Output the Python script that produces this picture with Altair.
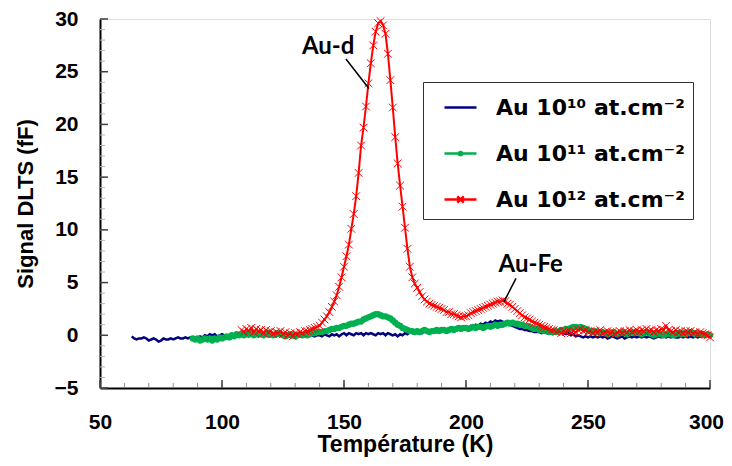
import altair as alt
import pandas as pd

# ---------------- data ----------------
names = ["Au 10¹⁰ at.cm⁻²", "Au 10¹¹ at.cm⁻²", "Au 10¹² at.cm⁻²"]
colors = ["#000080", "#00B050", "#FF0000"]

blue_T = list(range(63, 298))
blue_S = [
    -0.1, -0.3, -0.4, -0.3, -0.3, -0.2, -0.3, -0.5, -0.4, -0.3,
    -0.4, -0.6, -0.5, -0.3, -0.4, -0.4, -0.3, -0.4, -0.3, -0.2,
    -0.3, -0.3, -0.2, -0.3, -0.2, -0.3, -0.2, -0.3, -0.1, -0.2,
    0.0, -0.1, 0.1, 0.0, 0.1, -0.1, 0.0, 0.1, 0.0, -0.1,
    0.0, 0.1, 0.0, 0.1, -0.1, 0.0, 0.1, 0.0, -0.1, 0.0,
    0.1, 0.0, -0.1, 0.0, 0.1, 0.0, -0.1, 0.0, 0.1, -0.1,
    0.0, 0.1, 0.0, -0.1, 0.0, 0.1, 0.0, -0.1, 0.0, 0.1,
    0.0, -0.1, 0.0, 0.1, 0.0, -0.1, 0.0, 0.0, -0.1, 0.1,
    0.0, -0.1, 0.1, 0.0, 0.1, -0.1, 0.1, 0.2, 0.0, 0.2,
    0.1, 0.0, 0.2, 0.1, 0.2, 0.0, 0.2, 0.1, 0.2, 0.1,
    0.0, 0.2, 0.1, 0.2, 0.0, 0.2, 0.1, 0.0, 0.1, -0.1,
    0.1, 0.0, 0.2, 0.1, 0.3, 0.2, 0.3, 0.2, 0.3, 0.2,
    0.4, 0.3, 0.4, 0.3, 0.4, 0.3, 0.5, 0.4, 0.5, 0.4,
    0.6, 0.5, 0.6, 0.7, 0.6, 0.8, 0.7, 0.8, 0.7, 0.9,
    0.8, 1.0, 0.9, 1.1, 1.0, 1.2, 1.1, 1.3, 1.2, 1.4,
    1.3, 1.4, 1.3, 1.2, 1.1, 1.0, 0.9, 0.8, 0.7, 0.6,
    0.6, 0.5, 0.5, 0.4, 0.4, 0.3, 0.3, 0.3, 0.2, 0.3,
    0.2, 0.3, 0.2, 0.2, 0.3, 0.2, 0.3, 0.2, 0.1, 0.2,
    0.0, 0.1, -0.1, 0.0, -0.1, -0.2, -0.1, -0.2, -0.1, -0.2,
    -0.1, -0.2, -0.1, -0.2, -0.1, -0.3, -0.2, -0.1, -0.2, -0.3,
    -0.2, -0.1, -0.3, -0.2, -0.1, -0.2, -0.1, -0.2, -0.1, -0.2,
    -0.1, -0.2, -0.1, -0.2, -0.3, -0.2, -0.1, -0.2, -0.1, -0.2,
    -0.1, -0.2, -0.1, -0.2, -0.2, -0.1, -0.2, -0.1, -0.2, -0.1,
    -0.2, -0.1, -0.2, -0.1, -0.2,
]

green_T = list(range(88, 301))
green_S = [
    -0.3, -0.4, -0.3, -0.5, -0.4, -0.3, -0.4, -0.3, -0.5, -0.3,
    -0.4, -0.2, -0.3, -0.2, -0.1, -0.2, 0.0, -0.1, 0.1, 0.0,
    0.1, 0.0, 0.1, 0.1, 0.2, 0.0, 0.1, 0.2, 0.1, 0.0,
    0.1, 0.2, 0.1, 0.0, 0.1, 0.2, 0.1, 0.0, -0.1, 0.0,
    0.1, 0.0, -0.1, 0.0, 0.1, 0.0, 0.1, 0.0, 0.1, 0.2,
    0.2, 0.3, 0.3, 0.3, 0.4, 0.4, 0.5, 0.6, 0.6, 0.7,
    0.7, 0.8, 0.9, 0.9, 1.0, 1.1, 1.1, 1.2, 1.3, 1.3,
    1.5, 1.6, 1.7, 1.8, 1.9, 2.0, 2.0, 1.9, 1.8, 1.8,
    1.7, 1.6, 1.4, 1.2, 1.0, 0.9, 0.7, 0.6, 0.5, 0.4,
    0.4, 0.3, 0.4, 0.3, 0.4, 0.5, 0.4, 0.3, 0.4, 0.4,
    0.5, 0.4, 0.5, 0.5, 0.4, 0.5, 0.6, 0.5, 0.6, 0.7,
    0.6, 0.7, 0.7, 0.6, 0.7, 0.8, 0.7, 0.8, 0.8, 0.7,
    0.8, 0.9, 0.8, 0.9, 1.0, 0.9, 1.0, 1.0, 1.1, 1.2,
    1.1, 1.2, 1.1, 1.1, 1.0, 1.0, 0.9, 0.9, 0.8, 0.7,
    0.6, 0.6, 0.5, 0.5, 0.4, 0.4, 0.3, 0.3, 0.4, 0.3,
    0.4, 0.5, 0.5, 0.6, 0.6, 0.7, 0.8, 0.8, 0.7, 0.8,
    0.7, 0.6, 0.5, 0.4, 0.3, 0.4, 0.3, 0.2, 0.3, 0.2,
    0.1, 0.2, 0.3, 0.2, 0.1, 0.2, 0.3, 0.2, 0.1, 0.2,
    0.3, 0.2, 0.3, 0.2, 0.1, 0.2, 0.3, 0.2, 0.1, 0.0,
    0.1, 0.2, 0.1, 0.0, 0.1, 0.2, 0.1, 0.0, 0.1, 0.2,
    0.1, 0.2, 0.1, 0.2, 0.3, 0.2, 0.1, 0.2, 0.1, 0.1,
    0.0, 0.1, 0.0,
]

red_T = list(range(108, 301))
red_S = [
    0.5, 0.3, 0.6, 0.4, 0.7, 0.3, 0.6, 0.4, 0.5, 0.2,
    0.5, 0.3, 0.4, 0.1, 0.3, 0.2, 0.4, 0.1, 0.3, 0.0,
    0.2, -0.1, 0.2, 0.1, 0.3, 0.2, 0.4, 0.4, 0.5, 0.6,
    0.7, 0.8, 0.9, 1.2, 1.5, 1.8, 2.2, 2.7, 3.2, 3.8,
    4.6, 5.5, 6.5, 7.5, 8.6, 10.1, 11.5, 13.2, 15.4, 18.0,
    19.7, 21.7, 23.9, 25.8, 27.5, 28.8, 29.6, 29.8, 29.4, 28.6,
    26.7, 24.2, 21.6, 18.8, 16.3, 14.2, 12.2, 10.2, 8.2, 6.5,
    5.5, 4.9, 4.5, 4.1, 3.7, 3.4, 3.2, 3.0, 2.9, 2.8,
    2.7, 2.6, 2.5, 2.4, 2.2, 2.2, 2.0, 2.0, 1.9, 1.8,
    1.7, 1.8, 1.8, 1.9, 2.1, 2.2, 2.3, 2.4, 2.5, 2.6,
    2.7, 2.8, 2.9, 3.0, 3.1, 3.2, 3.2, 3.3, 3.2, 3.0,
    2.9, 2.7, 2.5, 2.3, 2.1, 1.9, 1.7, 1.6, 1.5, 1.3,
    1.2, 1.1, 1.0, 0.9, 0.8, 0.7, 0.6, 0.5, 0.5, 0.3,
    0.4, 0.2, 0.4, 0.3, 0.5, 0.2, 0.4, 0.3, 0.5, 0.6,
    0.4, 0.5, 0.3, 0.4, 0.2, 0.4, 0.3, 0.5, 0.2, 0.3,
    0.4, 0.2, 0.3, 0.1, 0.3, 0.4, 0.2, 0.4, 0.3, 0.5,
    0.3, 0.4, 0.5, 0.3, 0.5, 0.4, 0.6, 0.4, 0.5, 0.3,
    0.5, 0.4, 0.6, 0.5, 0.9, 0.5, 0.4, 0.3, 0.5, 0.3,
    0.4, 0.2, 0.4, 0.3, 0.4, 0.2, 0.3, 0.1, 0.3, 0.2,
    0.1, 0.0, -0.2,
]

x_major = [50, 100, 150, 200, 250, 300]
x_minor = list(range(50, 301, 10))
y_major = [-5, 0, 5, 10, 15, 20, 25, 30]
y_minor = list(range(-5, 31, 1))

ann_labels = ["Au-d", "Au-Fe"]
ann_T = [143.5, 226.5]
ann_S = [27.3, 6.7]
lead_T1 = [150.8, 220.5]
lead_S1 = [26.2, 5.4]
lead_T2 = [160.2, 215.6]
lead_S2 = [23.4, 3.2]

# ---------------- layout constants ----------------
W, H = 610, 369
XMIN, XMAX, YMIN, YMAX = 50, 300, -5, 30
PX_X = (XMAX - XMIN) / W   # data units per pixel along x
PX_Y = (YMAX - YMIN) / H   # data units per pixel along y
MINOR_LEN, MAJOR_LEN = 5, 8

# ---------------- tables ----------------
rows = []
for k, (Ts, Ss) in enumerate([(blue_T, blue_S), (green_T, green_S), (red_T, red_S)]):
    for t, s in zip(Ts, Ss):
        rows.append({"T": t, "S": s, "series": names[k], "k": k})
df = pd.DataFrame(rows)

ann_df = pd.DataFrame({"label": ann_labels, "T": ann_T, "S": ann_S})
lead_df = pd.DataFrame({"T1": lead_T1, "S1": lead_S1, "T2": lead_T2, "S2": lead_S2})

xt_minor = pd.DataFrame({"T": x_minor, "S0": YMIN, "S1": YMIN + MINOR_LEN * PX_Y})
xt_major = pd.DataFrame({"T": x_major, "S0": YMIN, "S1": YMIN + MAJOR_LEN * PX_Y})
yt_minor = pd.DataFrame({"S": y_minor, "T0": XMIN, "T1": XMIN + MINOR_LEN * PX_X})
yt_major = pd.DataFrame({"S": y_major, "T0": XMIN, "T1": XMIN + MAJOR_LEN * PX_X})

# ---------------- styling ----------------
AXF = "Liberation Sans"
LEGF = "DejaVu Sans"
ANNF = "Lato, Noto Sans"

x_scale = alt.Scale(domain=[XMIN, XMAX], nice=False, zero=False)
y_scale = alt.Scale(domain=[YMIN, YMAX], nice=False, zero=False)
color_scale = alt.Scale(domain=names, range=colors)

x_path_mark = "M-1,-1L1,1M-1,1L1,-1"
shape_scale = alt.Scale(
    domain=names,
    range=[
        "M-1,0L1,0",
        "M-1,0L1,0M-0.1,0A0.1,0.1,0,1,1,0.1,0A0.1,0.1,0,1,1,-0.1,0",
        "M-1,0L1,0M-0.2,-0.2L0.2,0.2M-0.2,0.2L0.2,-0.2",
    ],
)

x_main = alt.Axis(orient="bottom", values=x_major, title="Température (K)", ticks=False,
                  tickSize=0, grid=False, domainColor="black", domainWidth=2, labelFlush=False,
                  labelOffset={"condition": {"test": "datum.value == 300", "value": -4}, "value": 0},
                  labelFont=AXF, labelFontSize=21, labelFontWeight="bold", labelColor="black",
                  labelPadding=23, titleFont=AXF, titleFontSize=23, titleFontWeight="bold",
                  titleColor="black", titlePadding=1)
y_main = alt.Axis(orient="left", values=y_major, title="Signal DLTS (fF)", ticks=False,
                  tickSize=0, grid=False, domainColor="black", domainWidth=2, labelFlush=False,
                  labelFont=AXF, labelFontSize=21, labelFontWeight="bold", labelColor="black",
                  labelPadding=22, titleFont=AXF, titleFontSize=22, titleFontWeight="bold",
                  titleColor="black", titlePadding=17)

leg = alt.Legend(title=None, orient="none", legendX=323, legendY=63, direction="vertical",
                 strokeColor="#303030", padding=8, symbolSize=1024, symbolStrokeWidth=2.5,
                 symbolOffset=12, labelOffset=18, labelFont=LEGF, labelFontSize=22,
                 labelFontWeight="bold", labelColor="black", rowPadding=17, labelLimit=0)

base = alt.Chart(df)
X = lambda ax: alt.X("T:Q", scale=x_scale, axis=ax)
Y = lambda ax: alt.Y("S:Q", scale=y_scale, axis=ax)
C = alt.Color("series:N", scale=color_scale, legend=leg)
SH = alt.Shape("series:N", scale=shape_scale, legend=leg)

legend_layer = base.transform_filter("datum.T < 0").mark_point(filled=False, opacity=1).encode(
    x=X(None), y=Y(None), color=C, shape=SH)
blue_line = base.transform_filter("datum.k == 0").mark_line(strokeWidth=2.5).encode(
    x=X(x_main), y=Y(y_main), color=C)
green_line = base.transform_filter("datum.k == 1").mark_line(strokeWidth=2.5).encode(
    x=X(None), y=Y(None), color=C)
green_pts = base.transform_filter("datum.k == 1").mark_point(filled=True, size=40, opacity=1).encode(
    x=X(None), y=Y(None), color=C)
red_line = base.transform_filter("datum.k == 2").mark_line(strokeWidth=2).encode(
    x=X(None), y=Y(None), color=C)
red_pts = base.transform_filter("datum.k == 2").mark_point(
    shape=x_path_mark, filled=False, size=60, strokeWidth=1, opacity=1).encode(
    x=X(None), y=Y(None), color=C)


def xticks(d, color, width):
    return alt.Chart(d).mark_rule(color=color, strokeWidth=width).encode(
        x=alt.X("T:Q", scale=x_scale, axis=None),
        y=alt.Y("S0:Q", scale=y_scale, axis=None), y2="S1:Q")


def yticks(d, color, width):
    return alt.Chart(d).mark_rule(color=color, strokeWidth=width).encode(
        y=alt.Y("S:Q", scale=y_scale, axis=None),
        x=alt.X("T0:Q", scale=x_scale, axis=None), x2="T1:Q")


tick_layers = [
    xticks(xt_minor, "#8c8c8c", 1), yticks(yt_minor, "#b4b4b4", 1),
    xticks(xt_major, "#404040", 1.5), yticks(yt_major, "#404040", 1.5),
]

ann_text = alt.Chart(ann_df).mark_text(font=ANNF, fontSize=24, fontWeight="bold",
                                       color="black").encode(
    x=alt.X("T:Q", scale=x_scale, axis=None), y=alt.Y("S:Q", scale=y_scale, axis=None),
    text="label:N")
ann_lead = alt.Chart(lead_df).mark_rule(color="black", strokeWidth=1.5).encode(
    x=alt.X("T1:Q", scale=x_scale, axis=None), y=alt.Y("S1:Q", scale=y_scale, axis=None),
    x2="T2:Q", y2="S2:Q")

chart = alt.layer(
    blue_line, legend_layer, *tick_layers, green_line, green_pts, red_line, red_pts,
    ann_lead, ann_text
).resolve_axis(x="independent", y="independent").properties(
    width=W, height=H,
    padding={"left": 92, "top": 11, "right": 14, "bottom": 70},
    autosize=alt.AutoSizeParams(type="none"),
).configure_view(stroke="#3a3a3a", strokeWidth=2).configure(background="white")

chart.save("out.html", embed_options={"renderer": "svg", "actions": False})
